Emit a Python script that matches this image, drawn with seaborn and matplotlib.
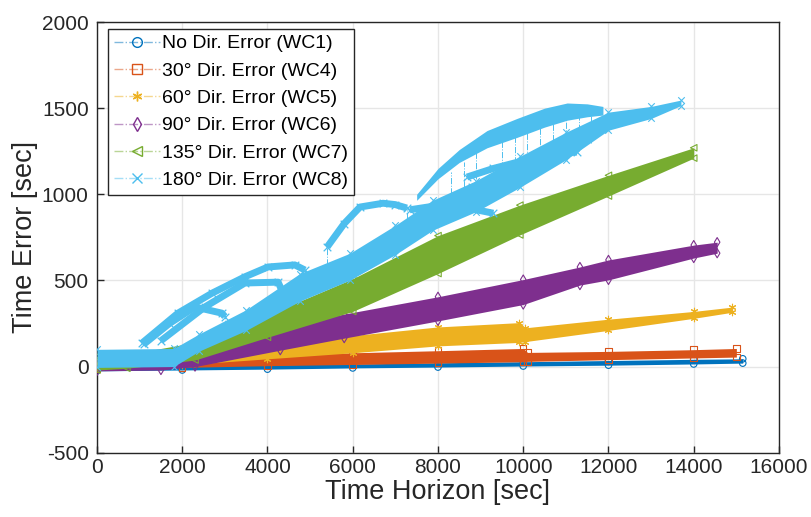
import numpy as np
import pandas as pd
import seaborn as sns
import matplotlib
matplotlib.use("Agg")
import matplotlib.pyplot as plt
from matplotlib.lines import Line2D
from matplotlib.legend_handler import HandlerTuple

# ---------------- data ----------------
labels = ["No Dir. Error (WC1)", "30\u00b0 Dir. Error (WC4)", "60\u00b0 Dir. Error (WC5)",
          "90\u00b0 Dir. Error (WC6)", "135\u00b0 Dir. Error (WC7)", "180\u00b0 Dir. Error (WC8)"]
colors = ["#0072BD", "#D95319", "#EDB120", "#7E2F8E", "#77AC30", "#4DBEEE"]
markers = ["o", "s", (6, 2, 0), "d", "<", "x"]

# band envelopes: x positions, lower and upper edge of each series
wc1_x = [0, 2000, 4000, 6000, 8000, 10000, 12000, 14000, 15150]
wc1_lo = [-25, -20, -15, -8, -3, 3, 8, 15, 20]
wc1_hi = [5, 5, 10, 15, 22, 28, 35, 42, 45]

wc4_x = [0, 2000, 4000, 6000, 8000, 10000, 10100, 12000, 14000, 15000]
wc4_lo = [-10, -5, 5, 12, 20, 28, 30, 40, 50, 55]
wc4_hi = [35, 50, 65, 80, 92, 105, 82, 88, 98, 105]

wc5_x = [0, 2000, 4000, 6000, 8000, 9900, 10050, 12000, 14000, 14900]
wc5_lo = [-5, 10, 45, 80, 120, 140, 145, 210, 280, 315]
wc5_hi = [25, 60, 125, 180, 230, 255, 225, 275, 320, 345]

wc6_x = [0, 1500, 2300, 4300, 5800, 8000, 10000, 11330, 12000, 14000, 14550]
wc6_lo = [-25, -20, 0, 95, 165, 265, 360, 473, 503, 630, 658]
wc6_hi = [10, 20, 110, 230, 305, 405, 505, 578, 619, 705, 722]

wc7_x = [0, 700, 2300, 4000, 6000, 8000, 9920, 12000, 14000]
wc7_lo = [-20, -10, 38, 170, 320, 540, 764, 990, 1210]
wc7_hi = [60, 70, 140, 300, 510, 760, 937, 1110, 1270]

wc8_x = [0, 1800, 2400, 3500, 4760, 5935, 7000, 7880, 8900, 9920, 11000, 12000, 13000, 13700]
wc8_lo = [-5, 0, 90, 210, 380, 502, 650, 792, 900, 1040, 1200, 1372, 1440, 1515]
wc8_hi = [100, 105, 190, 330, 540, 658, 820, 966, 1080, 1220, 1360, 1477, 1510, 1547]

# 180 deg (WC8) side arcs (ribbons of markers above the main band)
arc1_x = [1055, 1900, 2700, 3470, 4010, 4640, 4880]
arc1_y = [136, 310, 426, 521, 578, 590, 560]
arc2_x = [1500, 2530, 3470, 4250, 4340]
arc2_y = [150, 346, 485, 490, 440]
arc3_x = [1100, 1700, 2300, 2930, 3000]
arc3_y = [130, 250, 346, 310, 290]
arc4_x = [5400, 5800, 6170, 6710, 7000, 7270]
arc4_y = [694, 830, 926, 948, 940, 920]
arc6_x = [8680, 9300, 10000, 10600, 11260]
arc6_y = [1100, 1150, 1195, 1235, 1245]
arc7_x = [7340, 8000, 8700, 9300]
arc7_y = [910, 935, 920, 890]
arc8_x = [8800, 9400, 10090]
arc8_y = [1040, 1090, 1120]

# upper wide ribbon of WC8
rib_x = [7500, 8000, 8500, 9150, 9850, 10500, 11030, 11500, 11870]
rib_lo = [965, 1090, 1185, 1270, 1330, 1390, 1430, 1450, 1460]
rib_hi = [1000, 1150, 1260, 1370, 1440, 1500, 1530, 1525, 1510]

# thin dashed drops of WC8 (x, top, bottom)
drop_x = [4880, 4340, 3000, 7270, 5400, 9500, 9800, 10100, 10400, 10700, 11000, 11300, 11600, 8300, 8600, 8900]
drop_top = [560, 440, 290, 920, 694, 1320, 1380, 1420, 1450, 1470, 1480, 1480, 1460, 1130, 1190, 1240]
drop_bot = [470, 400, 220, 800, 590, 1150, 1180, 1200, 1230, 1250, 1260, 1250, 1300, 1000, 1040, 1090]

bands = [(wc1_x, wc1_lo, wc1_hi), (wc4_x, wc4_lo, wc4_hi), (wc5_x, wc5_lo, wc5_hi),
         (wc6_x, wc6_lo, wc6_hi), (wc7_x, wc7_lo, wc7_hi), (wc8_x, wc8_lo, wc8_hi)]
arcs = [(arc1_x, arc1_y), (arc2_x, arc2_y), (arc3_x, arc3_y), (arc4_x, arc4_y),
        (arc6_x, arc6_y), (arc7_x, arc7_y), (arc8_x, arc8_y)]

x_ticks = [0, 2000, 4000, 6000, 8000, 10000, 12000, 14000, 16000]
y_ticks = [-500, 0, 500, 1000, 1500, 2000]

# ---------------- plot ----------------
sns.set_theme(style="white")
plt.rcParams["font.family"] = ["Liberation Sans", "DejaVu Sans"]

fig = plt.figure(figsize=(8.11, 5.17), dpi=100)
ax = fig.add_axes([0.1196, 0.1244, 0.8409, 0.8330])

def is_filled(m):
    return m in ("x",) or isinstance(m, tuple)

for i, (bx, blo, bhi) in enumerate(bands):
    ax.fill_between(bx, blo, bhi, color=colors[i], linewidth=0, zorder=2 + i)
    df = pd.DataFrame({"x": bx + bx, "y": blo + bhi})
    sns.scatterplot(data=df, x="x", y="y", marker=markers[i], color=colors[i],
                    s=22, linewidth=0.8,
                    facecolor=colors[i] if is_filled(markers[i]) else "none",
                    edgecolor=colors[i], ax=ax, zorder=2 + i, legend=False)

c8 = colors[5]
ax.vlines(drop_x, drop_bot, drop_top, colors=c8, linestyles="-.", linewidth=0.7, zorder=8)
ax.fill_between(rib_x, rib_lo, rib_hi, color=c8, linewidth=0, zorder=8)
for axx, ayy in arcs:
    dfa = pd.DataFrame({"x": axx, "y": ayy})
    sns.lineplot(data=dfa, x="x", y="y", color=c8, linewidth=5, sort=False,
                 ax=ax, zorder=8, legend=False, solid_capstyle="butt")
    sns.scatterplot(data=dfa, x="x", y="y", marker="x", color=c8,
                    s=30, linewidth=0.9, ax=ax, zorder=8, legend=False)

ax.set_xlim(0, 16000)
ax.set_ylim(-500, 2000)
ax.set_xticks(x_ticks)
ax.set_yticks(y_ticks)
ax.set_xticklabels([str(t) for t in x_ticks])
ax.set_yticklabels([str(t) for t in y_ticks])
ax.grid(True, color="#e6e6e6", linewidth=1.0, zorder=0)
ax.set_axisbelow(True)
for s in ax.spines.values():
    s.set_color("#262626")
    s.set_linewidth(1.0)
ax.tick_params(direction="in", length=5, width=1.0, colors="#262626",
               labelsize=15, labelcolor="#262626", top=False, right=False,
               bottom=True, left=True)
ax.tick_params(axis="y", pad=6)
ax.tick_params(axis="x", pad=4)
ax.set_xlabel("Time Horizon [sec]", fontsize=19.5, color="#262626", labelpad=1)
ax.set_ylabel("Time Error [sec]", fontsize=19.5, color="#262626", labelpad=3)

handles = []
for i in range(6):
    line_h = Line2D([0], [0], color=colors[i], alpha=0.5, linestyle="-.", linewidth=1.0)
    mk_h = Line2D([0], [0], linestyle="none", marker=markers[i], markersize=7,
                  markerfacecolor=colors[i] if is_filled(markers[i]) else "none",
                  markeredgecolor=colors[i], markeredgewidth=1.0)
    handles.append((line_h, mk_h))
leg = ax.legend(handles, labels, loc="upper left", bbox_to_anchor=(0.016, 0.984),
                handler_map={tuple: HandlerTuple(ndivide=1, pad=0)},
                fontsize=14, frameon=True, fancybox=False, framealpha=1,
                edgecolor="#262626", handlelength=2.4, handletextpad=0.1,
                labelspacing=0.5, borderpad=0.3, borderaxespad=0)
leg.get_frame().set_linewidth(1.0)
for t in leg.get_texts():
    t.set_color("#000000")

fig.savefig("out.png", dpi=100)
